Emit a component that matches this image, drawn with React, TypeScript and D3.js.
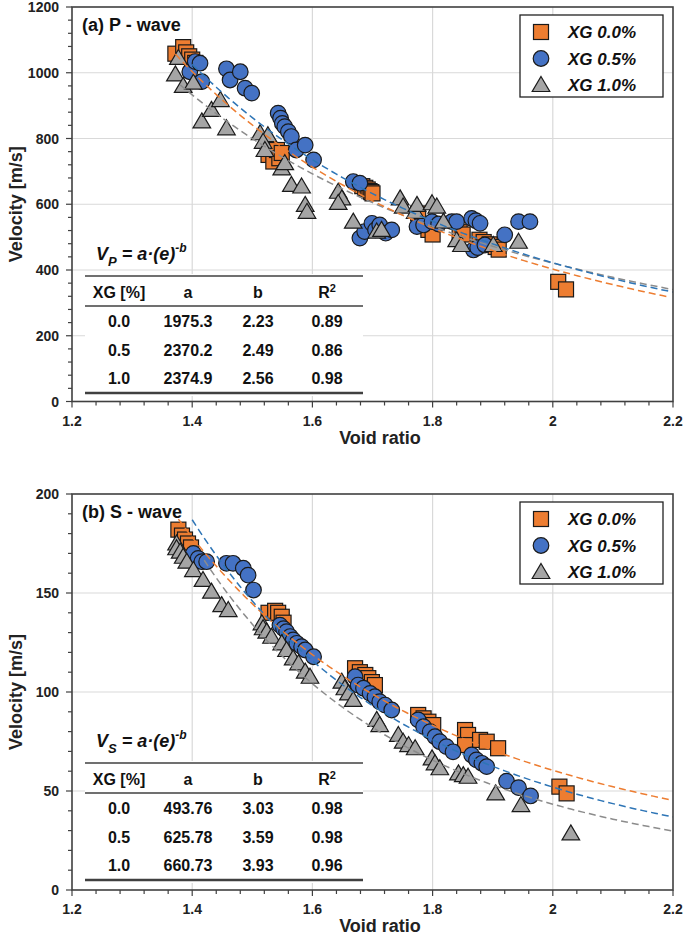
import React from "react";
import * as d3 from "d3";

// ---------- data ----------
const xTicks = [1.2, 1.4, 1.6, 1.8, 2.0, 2.2];
const xTickLabels = ["1.2", "1.4", "1.6", "1.8", "2", "2.2"];
const seriesNames = ["XG 0.0%", "XG 0.5%", "XG 1.0%"];
const tableXG = ["0.0", "0.5", "1.0"];

// P-wave fits
const pA = [1975.3, 2370.2, 2374.9];
const pB = [2.23, 2.49, 2.56];
const pR2 = ["0.89", "0.86", "0.98"];
const pAlabel = ["1975.3", "2370.2", "2374.9"];
const pBlabel = ["2.23", "2.49", "2.56"];
// S-wave fits
const sA = [493.76, 625.78, 660.73];
const sB = [3.03, 3.59, 3.93];
const sR2 = ["0.98", "0.98", "0.96"];
const sAlabel = ["493.76", "625.78", "660.73"];
const sBlabel = ["3.03", "3.59", "3.93"];

// P-wave measurements [void ratio, velocity]
const pXG00: [number, number][] = [
  [1.372, 1058], [1.385, 1078], [1.39, 1062], [1.395, 1050], [1.4, 1040], [1.405, 1030],
  [1.527, 750], [1.535, 730], [1.541, 765], [1.545, 740], [1.549, 756],
  [1.683, 655], [1.688, 650], [1.692, 645], [1.695, 640], [1.698, 637], [1.7, 633],
  [1.776, 572], [1.793, 522], [1.8, 508],
  [1.845, 515], [1.85, 508], [1.878, 492], [1.885, 485], [1.895, 478], [1.905, 470], [1.91, 462],
  [2.009, 364], [2.022, 341],
];
const pXG05: [number, number][] = [
  [1.396, 1003], [1.405, 1034], [1.413, 1029], [1.416, 973],
  [1.457, 1012], [1.463, 978], [1.48, 1003], [1.488, 953], [1.499, 938],
  [1.543, 877], [1.547, 862], [1.55, 846], [1.554, 836], [1.56, 821], [1.565, 806],
  [1.573, 765], [1.588, 780], [1.602, 735],
  [1.668, 669], [1.679, 664],
  [1.679, 497], [1.687, 517], [1.699, 542], [1.705, 522], [1.712, 537], [1.722, 512], [1.732, 522],
  [1.774, 532], [1.785, 537], [1.799, 547], [1.81, 540], [1.832, 547], [1.84, 547],
  [1.865, 557], [1.872, 550], [1.879, 542], [1.868, 461], [1.875, 468], [1.887, 476],
  [1.92, 507], [1.943, 547], [1.962, 547],
];
const pXG10: [number, number][] = [
  [1.377, 1045], [1.372, 995], [1.385, 960], [1.402, 970], [1.416, 852], [1.432, 887],
  [1.447, 917], [1.457, 831],
  [1.513, 816], [1.526, 810], [1.518, 790], [1.521, 765], [1.549, 709], [1.554, 725],
  [1.565, 659], [1.582, 654], [1.588, 598], [1.591, 577],
  [1.643, 638], [1.649, 618], [1.643, 604], [1.668, 547], [1.707, 517], [1.715, 522],
  [1.746, 618], [1.751, 593], [1.771, 577], [1.774, 598], [1.799, 603], [1.807, 593],
  [1.818, 547], [1.84, 491], [1.848, 476], [1.901, 476], [1.943, 486],
];

// S-wave measurements
const sXG00: [number, number][] = [
  [1.377, 182], [1.383, 179], [1.388, 177], [1.393, 175], [1.398, 173],
  [1.527, 140], [1.538, 141], [1.543, 140], [1.549, 138], [1.552, 135],
  [1.671, 112], [1.679, 110], [1.688, 108.6], [1.693, 107], [1.699, 105], [1.704, 103.5],
  [1.776, 88.4], [1.785, 86.7], [1.793, 85], [1.801, 83.3],
  [1.854, 80.8], [1.859, 78.3], [1.854, 73.2], [1.879, 75.8], [1.89, 74.9], [1.909, 71.6],
  [2.011, 52.2], [2.023, 48.8],
];
const sXG05: [number, number][] = [
  [1.402, 170], [1.41, 167.5], [1.416, 165.8], [1.424, 165.8], [1.457, 165], [1.468, 165],
  [1.485, 162.5], [1.493, 159], [1.502, 151.5],
  [1.546, 133.8], [1.552, 132], [1.557, 130.5], [1.563, 128], [1.568, 126.3], [1.574, 124.6],
  [1.582, 122.9], [1.588, 121.2], [1.602, 117.8],
  [1.671, 107.7], [1.676, 103.5], [1.685, 101.9], [1.696, 99.3], [1.704, 97.6], [1.712, 95.1],
  [1.721, 93.4], [1.732, 90.9],
  [1.776, 85.9], [1.785, 82.5], [1.796, 80], [1.804, 77.4], [1.812, 74.9], [1.823, 72.4],
  [1.834, 69.8], [1.865, 68.2], [1.873, 65.7], [1.882, 64], [1.89, 62.3], [1.923, 55],
  [1.943, 51.7], [1.963, 47.5],
];
const sXG10: [number, number][] = [
  [1.374, 175], [1.374, 172.6], [1.38, 170.9], [1.385, 168.3], [1.391, 165.8], [1.402, 161.6],
  [1.418, 156.6], [1.432, 150.7], [1.449, 143.9], [1.46, 141.4],
  [1.516, 134.7], [1.518, 132.2], [1.524, 130.5], [1.532, 127.9], [1.549, 124.6], [1.557, 121.2],
  [1.568, 117], [1.577, 114.5], [1.588, 110.3], [1.596, 107.7],
  [1.649, 105.2], [1.654, 101.9], [1.66, 99.3], [1.668, 96], [1.707, 85.9], [1.712, 83.3],
  [1.743, 78.3], [1.751, 74.9], [1.76, 73.2], [1.771, 71.6], [1.799, 66.5], [1.804, 64],
  [1.812, 61.5], [1.843, 58.9], [1.851, 58], [1.859, 57.2], [1.905, 48.8], [1.947, 42.9],
  [2.03, 28.6],
];

// ---------- styles ----------
const FILLS = ["#ED7D31", "#4472C4", "#A5A5A5"];
const FONT = "'Liberation Sans', Arial, sans-serif";
const AXIS = "#404040";

function Marker({ kind, cx, cy }: { kind: number; cx: number; cy: number }) {
  if (kind === 0)
    return <rect x={cx - 7.5} y={cy - 7.5} width={15} height={15} fill={FILLS[0]} stroke="#1a1a1a" strokeWidth={1.2} />;
  if (kind === 1) return <circle cx={cx} cy={cy} r={7.8} fill={FILLS[1]} stroke="#1a1a1a" strokeWidth={1.2} />;
  return (
    <path
      d={`M${cx},${cy - 8.5}L${cx + 8.8},${cy + 6.5}L${cx - 8.8},${cy + 6.5}Z`}
      fill={FILLS[2]}
      stroke="#1a1a1a"
      strokeWidth={1.2}
      strokeLinejoin="miter"
    />
  );
}

type PanelProps = {
  top: number;
  bottom: number;
  yMax: number;
  yStep: number;
  yMinor: number;
  data: [number, number][][];
  fitA: number[];
  fitB: number[];
  fitColors: string[];
  fitStart: number[];
  title: string;
  sub: string;
  aLabels: string[];
  bLabels: string[];
  r2: string[];
};

function Panel(p: PanelProps) {
  const L = 72, R = 673;
  const x = d3.scaleLinear().domain([1.2, 2.2]).range([L, R]);
  const y = d3.scaleLinear().domain([0, p.yMax]).range([p.bottom, p.top]);
  const yMajor = d3.range(0, p.yMax + 0.001, p.yStep);
  const yMin = d3.range(0, p.yMax + 0.001, p.yMinor);
  const xMinor = d3.range(0, 26).map((i) => 1.2 + i * 0.04);
  const line = d3
    .line<number>()
    .x((e) => x(e))
    .y((v, i) => 0);
  const curve = (a: number, b: number, s: number) => {
    const es = d3.range(s, 2.2001, 0.01);
    return d3
      .line<number>()
      .x((e) => x(e))
      .y((e) => y(a * Math.pow(e, -b)))(es) as string;
  };
  const t = p.top;
  const tb = { x0: 85, x1: 363 };
  const cols = [119, 188, 258, 327];
  const rowY0 = t + 288; // header center offset
  return (
    <g fontFamily={FONT}>
      {/* grid */}
      {xTicks.slice(1, -1).map((v) => (
        <line key={"gx" + v} x1={x(v)} x2={x(v)} y1={p.top} y2={p.bottom} stroke="#d9d9d9" strokeWidth={1.2} />
      ))}
      {yMajor.slice(1, -1).map((v) => (
        <line key={"gy" + v} x1={L} x2={R} y1={y(v)} y2={y(v)} stroke="#d9d9d9" strokeWidth={1.2} />
      ))}
      {/* table background */}
      <rect x={tb.x0} y={t + 267} width={tb.x1 - tb.x0} height={122} fill="white" />
      {/* markers */}
      {p.data.map((ser, k) =>
        ser.map((d, i) => <Marker key={k + "-" + i} kind={k} cx={x(d[0])} cy={y(d[1])} />)
      )}
      {/* fit curves */}
      {p.fitA.map((a, k) => (
        <path
          key={"f" + k}
          d={curve(a, p.fitB[k], p.fitStart[k])}
          fill="none"
          stroke={p.fitColors[k]}
          strokeWidth={1.5}
          strokeDasharray="7,4"
        />
      ))}
      {/* frame */}
      <rect x={L} y={p.top} width={R - L} height={p.bottom - p.top} fill="none" stroke={AXIS} strokeWidth={1.6} />
      {/* ticks */}
      {yMin.map((v) => (
        <line key={"ym" + v} x1={L - (v % p.yStep === 0 ? 6 : 4)} x2={L} y1={y(v)} y2={y(v)} stroke={AXIS} strokeWidth={1.2} />
      ))}
      {xMinor.map((v, i) => (
        <line key={"xm" + i} x1={x(v)} x2={x(v)} y1={p.bottom} y2={p.bottom + (i % 5 === 0 ? 6 : 4)} stroke={AXIS} strokeWidth={1.2} />
      ))}
      {yMajor.map((v) => (
        <text key={"yl" + v} x={59} y={y(v) + 5} textAnchor="end" fontSize={14} fontWeight="bold" fill="#222">
          {v}
        </text>
      ))}
      {xTicks.map((v, i) => (
        <text key={"xl" + v} x={x(v)} y={p.bottom + 24} textAnchor="middle" fontSize={14} fontWeight="bold" fill="#222">
          {xTickLabels[i]}
        </text>
      ))}
      <text x={380} y={p.bottom + 42} textAnchor="middle" fontSize={18} fontWeight="bold" fill="#222">
        Void ratio
      </text>
      <text
        transform={`translate(22,${(p.top + p.bottom) / 2}) rotate(-90)`}
        textAnchor="middle"
        fontSize={18}
        fontWeight="bold"
        fill="#222"
      >
        Velocity [m/s]
      </text>
      {/* title */}
      <text x={82} y={t + 24} fontSize={18} fontWeight="bold" fill="#111">
        {p.title}
      </text>
      {/* legend */}
      <rect x={520} y={t + 8} width={143} height={82} fill="white" stroke="#222" strokeWidth={1.3} />
      {seriesNames.map((n, k) => (
        <g key={"lg" + k}>
          <Marker kind={k} cx={541} cy={t + 25 + k * 26.5} />
          <text x={568} y={t + 31 + k * 26.5} fontSize={17} fontWeight="bold" fontStyle="italic" fill="#111">
            {n}
          </text>
        </g>
      ))}
      {/* formula */}
      <text x={96} y={t + 253} fontSize={18} fontWeight="bold" fontStyle="italic" fill="#111">
        V
        <tspan fontSize={13} dy={6}>
          {p.sub}
        </tspan>
        <tspan dy={-6}> = a·(e)</tspan>
        <tspan fontSize={12} dy={-8}>
          -b
        </tspan>
      </text>
      {/* table */}
      <line x1={tb.x0} x2={tb.x1} y1={t + 269} y2={t + 269} stroke={AXIS} strokeWidth={1.6} />
      <line x1={tb.x0} x2={tb.x1} y1={t + 299} y2={t + 299} stroke={AXIS} strokeWidth={1.6} />
      <line x1={tb.x0} x2={tb.x1} y1={t + 386} y2={t + 386} stroke={AXIS} strokeWidth={2.6} />
      {["XG [%]", "a", "b"].map((h, i) => (
        <text key={"h" + i} x={cols[i]} y={rowY0 + 3} textAnchor="middle" fontSize={16} fontWeight="bold" fill="#111">
          {h}
        </text>
      ))}
      <text x={cols[3]} y={rowY0 + 3} textAnchor="middle" fontSize={16} fontWeight="bold" fill="#111">
        R<tspan fontSize={11} dy={-6}>2</tspan>
      </text>
      {tableXG.map((g, r) => (
        <g key={"r" + r}>
          {[g, p.aLabels[r], p.bLabels[r], p.r2[r]].map((c, i) => (
            <text
              key={i}
              x={cols[i]}
              y={t + 320 + r * 28.7}
              textAnchor="middle"
              fontSize={16}
              fontWeight="bold"
              fill="#111"
            >
              {c}
            </text>
          ))}
        </g>
      ))}
    </g>
  );
}

export default function App() {
  return (
    <svg
      width={685}
      height={936}
      style={{ position: "absolute", left: 0, top: 0, background: "white" }}
    >
      <rect width={685} height={936} fill="white" />
      <Panel
        top={7}
        bottom={401.5}
        yMax={1200}
        yStep={200}
        yMinor={40}
        data={[pXG00, pXG05, pXG10]}
        fitA={pA}
        fitB={pB}
        fitColors={["#8C8C8C", "#2E75B6", "#ED7D31"]}
        fitStart={[1.38, 1.4, 1.372]}
        title="(a) P - wave"
        sub="P"
        aLabels={pAlabel}
        bLabels={pBlabel}
        r2={pR2}
      />
      <Panel
        top={494}
        bottom={890}
        yMax={200}
        yStep={50}
        yMinor={10}
        data={[sXG00, sXG05, sXG10]}
        fitA={sA}
        fitB={sB}
        fitColors={["#ED7D31", "#2E75B6", "#8C8C8C"]}
        fitStart={[1.377, 1.4, 1.42]}
        title="(b) S - wave"
        sub="S"
        aLabels={sAlabel}
        bLabels={sBlabel}
        r2={sR2}
      />
    </svg>
  );
}
